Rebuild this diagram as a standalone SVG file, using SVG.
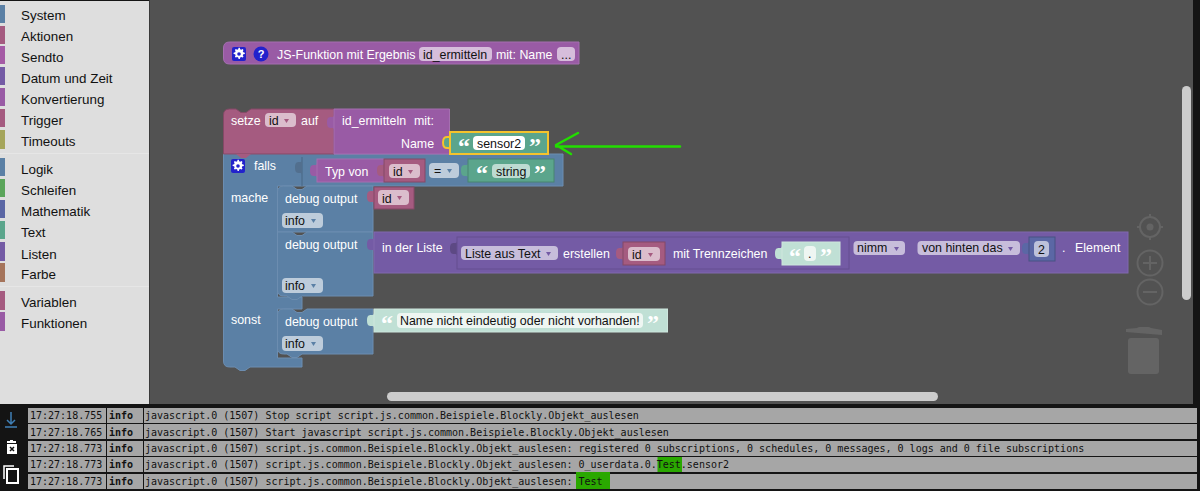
<svg xmlns="http://www.w3.org/2000/svg" xmlns:xlink="http://www.w3.org/1999/xlink" width="1200" height="491" viewBox="0 0 1200 491">
<style>
text{font-family:"Liberation Sans",Arial,sans-serif;font-size:12.4px;fill:#fff;white-space:pre}
.m{font-size:13.4px;fill:#111}
.d{fill:#111}
.q{font-family:"Liberation Serif",serif;font-weight:bold;font-size:24px;fill:#fff}
.log{font-family:"DejaVu Sans Mono","Liberation Mono",monospace;font-size:10px;fill:#111}
.lb{font-weight:bold}
.blue{fill:#5b80a5;stroke:#6c8db0}
.pink{fill:#a55b80;stroke:#844966}
.fn{fill:#995ba5;stroke:#a56fb0}
.list{fill:#745ba5;stroke:#8068ae}
.listd{fill:#745ba5;stroke:#654f90}
.green{fill:#5ba58c;stroke:#498470}
.lgreen{fill:#c0e0d5;stroke:#cde6dd}
.num{fill:#5b67a5;stroke:#495284}
.f{rx:4px;ry:4px}
.fp{fill:#dbbdcc}.fb{fill:#bdccdb}.ff{fill:#d6bddb}.fl{fill:#c7bddb}.fg{fill:#bddbd1}.fw{fill:#fff}.fn2{fill:#bdc2db}.fe{fill:#eef6f2}
.row{fill:#a6a6a6}
.ws{fill:none;stroke:#646464;stroke-width:2}
</style>
<defs>
<path id="tab" d="M0,0c0,5 -7,-2 -7,7.500s7,2.500 7,7.500z"/>
<path id="dd" d="M0,0h5l-2.500,4z"/>
<path id="gear" d="M6.500,2.200l1.200,0 .4,1.500 1,.5 1.400,-.7 .9,.9 -.7,1.400 .5,1 1.500,.4 0,1.200 -1.500,.4 -.5,1 .7,1.400 -.9,.9 -1.400,-.7 -1,.5 -.4,1.500 -1.200,0 -.4,-1.500 -1,-.5 -1.400,.7 -.9,-.9 .7,-1.400 -.5,-1 -1.500,-.4 0,-1.200 1.500,-.4 .5,-1 -.7,-1.400 .9,-.9 1.400,.7 1,-.5z"/>
</defs>

<rect width="1200" height="491" fill="#141414"/>
<rect id="workspace" x="150" y="0" width="1043" height="404" fill="#525252"/>

<g id="toolbox">
<rect x="0" y="1" width="149" height="403" fill="#dedede"/>
<rect x="149" y="0" width="1" height="404" fill="#3a3a3a"/>
<rect x="0" y="153" width="149" height="1" fill="#e6e6e6"/>
<rect x="0" y="286" width="149" height="1" fill="#e6e6e6"/>
<rect x="0" y="5" width="5" height="18" fill="#5b80a5"/><text class="m" x="21" y="20">System</text>
<rect x="0" y="26" width="5" height="18" fill="#a55b80"/><text class="m" x="21" y="41">Aktionen</text>
<rect x="0" y="46" width="5" height="18" fill="#a55ba5"/><text class="m" x="21" y="62">Sendto</text>
<rect x="0" y="67" width="5" height="18" fill="#745ba5"/><text class="m" x="21" y="83">Datum und Zeit</text>
<rect x="0" y="88" width="5" height="18" fill="#995ba5"/><text class="m" x="21" y="104">Konvertierung</text>
<rect x="0" y="109" width="5" height="18" fill="#a55b80"/><text class="m" x="21" y="125">Trigger</text>
<rect x="0" y="130" width="5" height="19" fill="#a5a55b"/><text class="m" x="21" y="146">Timeouts</text>
<rect x="0" y="158" width="5" height="18" fill="#5b80a5"/><text class="m" x="21" y="174">Logik</text>
<rect x="0" y="179" width="5" height="18" fill="#5ba55b"/><text class="m" x="21" y="195">Schleifen</text>
<rect x="0" y="200" width="5" height="18" fill="#5b67a5"/><text class="m" x="21" y="216">Mathematik</text>
<rect x="0" y="221" width="5" height="18" fill="#5ba58c"/><text class="m" x="21" y="237">Text</text>
<rect x="0" y="242" width="5" height="19" fill="#745ba5"/><text class="m" x="21" y="259">Listen</text>
<rect x="0" y="263" width="5" height="19" fill="#a5745b"/><text class="m" x="21" y="279">Farbe</text>
<rect x="0" y="291" width="5" height="19" fill="#a55b80"/><text class="m" x="21" y="307">Variablen</text>
<rect x="0" y="312" width="5" height="19" fill="#995ba5"/><text class="m" x="21" y="328">Funktionen</text>
</g>

<g id="block-function-def">
<path class="fn" d="M223.500,48q0,-6 6,-6H579V64H229.500q-6,0 -6,-6z"/>
<rect x="232" y="47" width="14" height="14" rx="2" fill="#2222cc"/><use xlink:href="#gear" href="#gear" x="232" y="47" fill="#fff" transform="translate(0.100 -1.500)"/><circle cx="239" cy="54" r="1.800" fill="#2222cc"/>
<circle cx="261" cy="54" r="7.500" fill="#2222cc"/><text x="261" y="58" text-anchor="middle" style="font-size:11px;font-weight:bold">?</text>
<text x="277" y="59">JS-Funktion mit Ergebnis</text>
<rect class="f ff" x="419" y="47" width="73" height="14"/><text class="d" x="423" y="59">id_ermitteln</text>
<text x="496" y="59">mit: Name</text>
<rect class="f ff" x="557" y="47" width="18" height="14"/><text class="d" x="561" y="59">...</text>
</g>

<g id="block-if">
<path class="blue" d="M223.500,158V154H563V186H277.500V297H302V309H277.500V358H302V367H250l-5,3.500h-5l-5,-3.500H229.500q-6,0 -6,-6z"/>
<path d="M302,157V186" stroke="#496684" fill="none"/>
<use xlink:href="#tab" href="#tab" x="302" y="160" fill="#526f8e"/>
<rect x="231" y="159" width="14" height="14" rx="2" fill="#2222cc"/><use xlink:href="#gear" href="#gear" x="231" y="159" fill="#fff" transform="translate(0.100 -1.500)"/><circle cx="238" cy="166" r="1.800" fill="#2222cc"/>
<text x="254" y="170">falls</text>
<text x="231" y="202">mache</text>
<text x="231" y="324">sonst</text>
</g>

<g id="block-set">
<path class="pink" d="M223.500,115q0,-6 6,-6H236l5,3.500h5l5,-3.500H334V154H223.500z"/>
<text x="231" y="125">setze</text>
<rect class="f fp" x="265" y="113" width="31" height="14"/><text class="d" x="269" y="125">id</text><use xlink:href="#dd" href="#dd" x="284" y="119" fill="#a55b80"/>
<text x="301" y="125">auf</text>
<path d="M236,154l5,4h5l5,-4z" fill="#a55b80"/>
</g>

<g id="block-id-ermitteln">
<use xlink:href="#tab" href="#tab" x="334" y="115" fill="#995ba5"/>
<path class="fn" d="M334,109H449.500V154H334z"/>
<text x="342" y="125">id_ermitteln</text><text x="414" y="125">mit:</text>
<text x="401" y="148">Name</text>
</g>

<g id="block-sensor2">
<use xlink:href="#tab" href="#tab" x="450" y="135" fill="#5ba58c" stroke="#f5c32c" stroke-width="2"/>
<rect x="450" y="132" width="98" height="22" fill="#5ba58c" stroke="#f5c32c" stroke-width="2"/>
<text class="q" x="458" y="154">“</text><text class="q" x="529" y="154">”</text>
<rect class="f fw" x="473" y="136" width="52" height="14"/><text class="d" x="477" y="148">sensor2</text>
</g>

<g id="block-typeof">
<use xlink:href="#tab" href="#tab" x="317" y="163" fill="#995ba5"/>
<rect class="fn" x="317" y="159" width="67" height="23"/>
<text x="325" y="176">Typ von</text>
</g>
<g id="block-id-a">
<use xlink:href="#tab" href="#tab" x="384" y="163" fill="#a55b80"/>
<rect class="pink" x="384" y="159" width="41" height="23"/>
<rect class="f fp" x="389" y="164" width="31" height="14"/><text class="d" x="393" y="176">id</text><use xlink:href="#dd" href="#dd" x="408" y="170" fill="#a55b80"/>
</g>
<g id="field-equals">
<rect class="f fb" x="429" y="163" width="30" height="15"/><text class="d" x="434" y="175">=</text><use xlink:href="#dd" href="#dd" x="447" y="169" fill="#5b80a5"/>
</g>
<g id="block-string">
<use xlink:href="#tab" href="#tab" x="468" y="163" fill="#5ba58c"/>
<rect class="green" x="468" y="159" width="86" height="23"/>
<text class="q" x="476" y="181">“</text><text class="q" x="534" y="181">”</text>
<rect class="f fg" x="492" y="164" width="38" height="14"/><text class="d" x="496" y="176">string</text>
</g>

<g id="block-debug-1">
<path class="blue" d="M277.500,192q0,-6 6,-6H292l5,3.500h5l5,-3.500H373V232H277.500z"/>
<text x="285" y="203">debug output</text>
<use xlink:href="#tab" href="#tab" x="374" y="189" fill="#a55b80"/>
<rect class="f fb" x="282" y="213" width="41" height="15"/><text x="285" y="225" class="d">info</text><use xlink:href="#dd" href="#dd" x="311" y="219" fill="#5b80a5"/>
</g>
<g id="block-id-b">
<rect class="pink" x="374" y="187" width="40" height="22"/>
<rect class="f fp" x="378" y="190" width="31" height="15"/><text class="d" x="382" y="203">id</text><use xlink:href="#dd" href="#dd" x="397" y="196" fill="#a55b80"/>
</g>

<g id="block-debug-2">
<path class="blue" d="M277.500,232H292l5,3.500h5l5,-3.500H373V296H302l-5,3.500h-5l-5,-3.500h-3.500q-6,0 -6,-6z"/>
<text x="285" y="249">debug output</text>
<rect class="f fb" x="282" y="278" width="41" height="15"/><text x="285" y="290" class="d">info</text><use xlink:href="#dd" href="#dd" x="311" y="284" fill="#5b80a5"/>
</g>

<g id="block-list-element">
<use xlink:href="#tab" href="#tab" x="374" y="237" fill="#745ba5"/>
<rect class="list" x="374" y="232" width="754" height="41"/>
<text x="382" y="252">in der Liste</text>
<rect class="f fl" x="853.500" y="241" width="51.500" height="14"/><text x="857" y="252" class="d">nimm</text><use xlink:href="#dd" href="#dd" x="894" y="247" fill="#745ba5"/>
<rect class="f fl" x="917.500" y="241" width="102.500" height="14"/><text x="922" y="252" class="d">von hinten das</text><use xlink:href="#dd" href="#dd" x="1008" y="247" fill="#745ba5"/>
<text x="1062" y="252">.</text><text x="1075" y="252">Element</text>
</g>
<g id="block-split">
<use xlink:href="#tab" href="#tab" x="457" y="241" fill="#5d4984"/>
<rect class="listd" x="457" y="237" width="392" height="32"/>
<rect class="f fl" x="461" y="246" width="97" height="14"/><text class="d" x="465" y="258">Liste aus Text</text><use xlink:href="#dd" href="#dd" x="546" y="252" fill="#745ba5"/>
<text x="563" y="258">erstellen</text>
<text x="673" y="258">mit Trennzeichen</text>
</g>
<g id="block-id-c">
<use xlink:href="#tab" href="#tab" x="623" y="246" fill="#a55b80"/>
<rect class="pink" x="623" y="242" width="42" height="23"/>
<rect class="f fp" x="628" y="247" width="32" height="14"/><text class="d" x="632" y="259">id</text><use xlink:href="#dd" href="#dd" x="648" y="253" fill="#a55b80"/>
</g>
<g id="block-dot">
<use xlink:href="#tab" href="#tab" x="782" y="246" fill="#c0e0d5"/>
<rect class="lgreen" x="782" y="242" width="58" height="23"/>
<text class="q" x="789" y="264">“</text><text class="q" x="820" y="264">”</text>
<rect class="f fe" x="804" y="246" width="12" height="15"/><text class="d" x="808" y="258">.</text>
</g>
<g id="block-number">
<use xlink:href="#tab" href="#tab" x="1029" y="241" fill="#5b67a5"/>
<rect class="num" x="1029" y="237" width="26" height="24"/>
<rect class="f fn2" x="1034" y="241" width="15" height="16"/><text class="d" x="1038" y="254">2</text>
</g>

<g id="block-debug-3">
<path class="blue" d="M277.500,315q0,-6 6,-6H292l5,3.500h5l5,-3.500H373V354H302l-5,3.500h-5l-5,-3.500h-3.500q-6,0 -6,-6z"/>
<text x="285" y="326">debug output</text>
<rect class="f fb" x="282" y="336" width="41" height="15"/><text x="285" y="348" class="d">info</text><use xlink:href="#dd" href="#dd" x="311" y="342" fill="#5b80a5"/>
</g>
<g id="block-name-text">
<use xlink:href="#tab" href="#tab" x="374" y="313" fill="#c0e0d5"/>
<rect class="lgreen" x="374" y="309" width="293.500" height="23"/>
<text class="q" x="381" y="331">“</text><text class="q" x="647" y="331">”</text>
<rect class="f fe" x="397" y="313" width="246" height="15"/><text class="d" x="400" y="325">Name nicht eindeutig oder nicht vorhanden!</text>
</g>

<g id="connectors">
<path d="M680,146.500H556M578,133L556,145L571,154" fill="none" stroke="#22dd00" stroke-width="2.500" stroke-linecap="round" stroke-linejoin="round"/>
</g>

<g id="workspace-controls">
<circle class="ws" cx="1150" cy="227" r="10"/><path class="ws" d="M1150,214v3M1150,237v3M1137,227h3M1160,227h3"/><circle cx="1150" cy="227" r="3.500" fill="#646464"/>
<circle class="ws" cx="1150" cy="263" r="12.500"/><path class="ws" d="M1143,263h14M1150,256v14"/>
<circle class="ws" cx="1150" cy="292" r="12.500"/><path class="ws" d="M1143,292h14"/>
<path d="M1126,329l11,-1q1,-1 3,-1h8q2,0 3,1l11,2v5l-36,-3z" fill="#646464"/>
<rect x="1128" y="338" width="31" height="36" rx="3" fill="#646464"/>
</g>
<g id="scrollbars">
<rect x="387" y="392" width="551" height="9" rx="4.500" fill="#ccc"/>
<rect x="1182" y="86" width="9" height="214" rx="4.500" fill="#ccc"/>
</g>

<g id="log-tools">
<path d="M11,412V424M7,420l4,4 4,-4M5,427H17" fill="none" stroke="#3f7fb5" stroke-width="1.500"/>
<path d="M8,441h2v-1h3v1h3v2H7v-2zM7,444h10v10H7z" fill="#fff"/><path d="M10,447l4,4M14,447l-4,4" stroke="#111" stroke-width="1.500"/>
<path d="M14,466H4V479" fill="none" stroke="#fff" stroke-width="1.500"/><rect x="7" y="469" width="11" height="14" fill="none" stroke="#fff" stroke-width="2"/>
</g>

<g id="log">
<rect class="row" x="28" y="408" width="78" height="15"/><rect class="row" x="107" y="408" width="36" height="15"/><rect class="row" x="144" y="408" width="1053" height="15"/>
<rect class="row" x="28" y="424" width="78" height="15"/><rect class="row" x="107" y="424" width="36" height="15"/><rect class="row" x="144" y="424" width="1053" height="15"/>
<rect class="row" x="28" y="441" width="78" height="15"/><rect class="row" x="107" y="441" width="36" height="15"/><rect class="row" x="144" y="441" width="1053" height="15"/>
<rect class="row" x="28" y="457" width="78" height="15"/><rect class="row" x="107" y="457" width="36" height="15"/><rect class="row" x="144" y="457" width="1053" height="15"/>
<rect class="row" x="28" y="474" width="78" height="15"/><rect class="row" x="107" y="474" width="36" height="15"/><rect class="row" x="144" y="474" width="1053" height="15"/>
<rect x="657.500" y="457" width="24.500" height="15" fill="#2aa800"/>
<rect x="576" y="472" width="34" height="17" fill="#2aa800"/>
<text class="log" x="30" y="419">17:27:18.755</text><text class="log lb" x="109" y="419">info</text><text class="log" x="145" y="419">javascript.0 (1507) Stop script script.js.common.Beispiele.Blockly.Objekt_auslesen</text>
<text class="log" x="30" y="436">17:27:18.765</text><text class="log lb" x="109" y="436">info</text><text class="log" x="145" y="436">javascript.0 (1507) Start javascript script.js.common.Beispiele.Blockly.Objekt_auslesen</text>
<text class="log" x="30" y="452">17:27:18.773</text><text class="log lb" x="109" y="452">info</text><text class="log" x="145" y="452">javascript.0 (1507) script.js.common.Beispiele.Blockly.Objekt_auslesen: registered 0 subscriptions, 0 schedules, 0 messages, 0 logs and 0 file subscriptions</text>
<text class="log" x="30" y="468">17:27:18.773</text><text class="log lb" x="109" y="468">info</text><text class="log" x="145" y="468">javascript.0 (1507) script.js.common.Beispiele.Blockly.Objekt_auslesen: 0_userdata.0.Test.sensor2</text>
<text class="log" x="30" y="485">17:27:18.773</text><text class="log lb" x="109" y="485">info</text><text class="log" x="145" y="485">javascript.0 (1507) script.js.common.Beispiele.Blockly.Objekt_auslesen: Test</text>
</g>
</svg>
